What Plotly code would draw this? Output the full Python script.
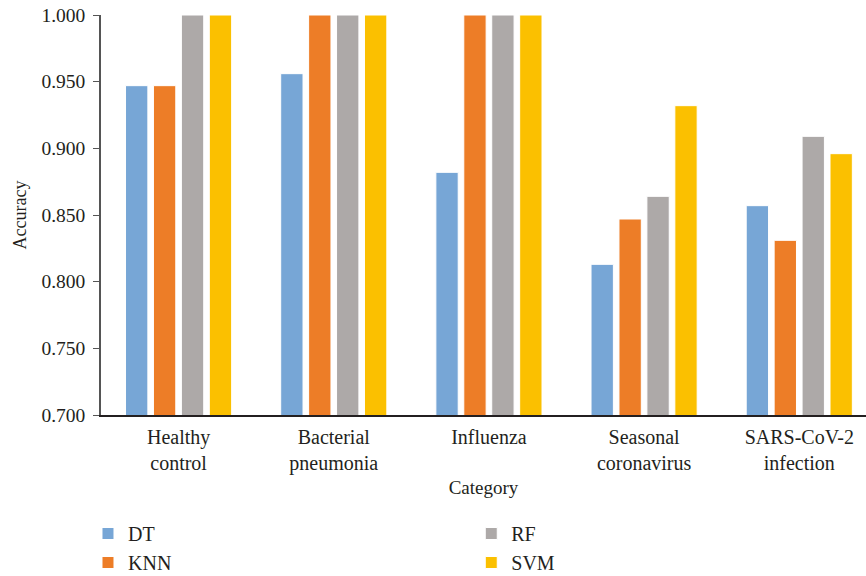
import plotly.graph_objects as go

categories = ["Healthy<br>control", "Bacterial<br>pneumonia", "Influenza", "Seasonal<br>coronavirus", "SARS-CoV-2<br>infection"]
dt = [0.947, 0.956, 0.882, 0.813, 0.857]
knn = [0.947, 1.000, 1.000, 0.847, 0.831]
rf = [1.000, 1.000, 1.000, 0.864, 0.909]
svm = [1.000, 1.000, 1.000, 0.932, 0.896]

series = [("DT", dt, "#77A6D6", "legend"), ("KNN", knn, "#ED7D27", "legend"),
          ("RF", rf, "#ADA9A8", "legend2"), ("SVM", svm, "#FBC000", "legend2")]

FF = "Liberation Serif, DejaVu Serif, serif"
TXT = "#231F20"

def f(size):
    return dict(family=FF, size=size, color=TXT)

fig = go.Figure()
for name, vals, color, leg in series:
    fig.add_trace(go.Bar(x=categories, y=vals, name=name, legend=leg,
                         marker=dict(color=color, line=dict(color="white", width=1))))

fig.update_layout(
    width=866, height=576,
    margin=dict(l=101, r=0, t=15, b=161, autoexpand=False),
    paper_bgcolor="white", plot_bgcolor="white",
    font=f(19),
    barmode="group", bargap=0.28, bargroupgap=0.2,
    showlegend=True,
    legend=dict(x=-0.017, y=-0.2475, xanchor="left", yanchor="top", orientation="v",
                font=f(20), tracegroupgap=0, itemwidth=30, bgcolor="rgba(0,0,0,0)"),
    legend2=dict(x=0.484, y=-0.2475, xanchor="left", yanchor="top", orientation="v",
                 font=f(20), tracegroupgap=0, itemwidth=30, bgcolor="rgba(0,0,0,0)"),
)
fig.update_xaxes(range=[-0.5, 4.43], showline=True, linecolor="#231F20", linewidth=1.5,
                 ticks="", showgrid=False, automargin=False,
                 title=dict(text="Category", standoff=7, font=f(19)),
                 tickfont=f(20), ticklabelstandoff=3)
fig.update_yaxes(range=[0.7, 1.0], dtick=0.05, tickformat=".3f", showline=True,
                 linecolor="#555555", linewidth=1.5, ticks="outside", ticklen=6,
                 tickcolor="#555555", showgrid=False, zeroline=False, automargin=False,
                 ticklabelstandoff=4, ticklabeloverflow="allow",
                 title=dict(text="Accuracy", standoff=10, font=f(18)),
                 tickfont=f(19.5))

fig.write_html("out.html", config={"displayModeBar": False},
               post_script="document.body.style.margin='0';document.body.style.overflow='hidden';")
